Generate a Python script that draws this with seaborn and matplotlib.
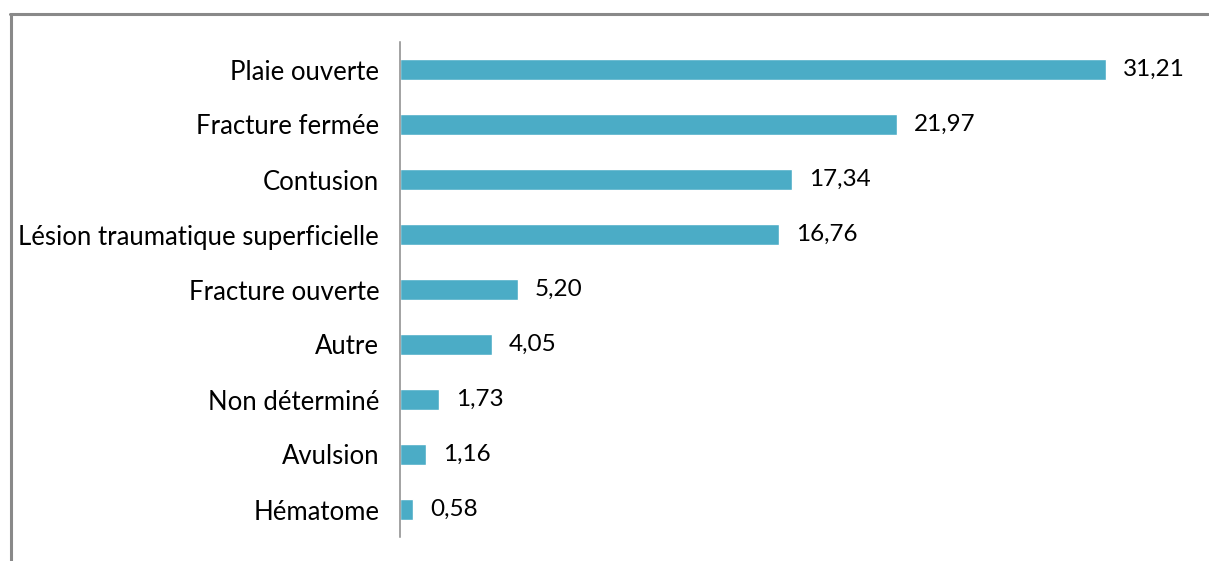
import matplotlib
matplotlib.use("Agg")
import matplotlib.pyplot as plt
import seaborn as sns
import pandas as pd
from matplotlib.lines import Line2D

categories = ["Plaie ouverte", "Fracture fermée", "Contusion",
              "Lésion traumatique superficielle", "Fracture ouverte",
              "Autre", "Non déterminé", "Avulsion", "Hématome"]
values = [31.21, 21.97, 17.34, 16.76, 5.20, 4.05, 1.73, 1.16, 0.58]

df = pd.DataFrame({"Category": categories, "Value": values})

sns.set_style("white")
plt.rcParams["font.family"] = ["Lato", "DejaVu Sans"]

fig = plt.figure(figsize=(12.09, 5.61), dpi=100)
ax = fig.add_axes([400 / 1209, 24 / 561, 780 / 1209, 495 / 561])

sns.barplot(data=df, x="Value", y="Category", orient="h", color="#4BACC6",
            saturation=1, width=0.38, ax=ax)

ax.set_xlim(0, 780 / 22.62)
ax.set_ylim(8.5, -0.5)
ax.set_xlabel("")
ax.set_ylabel("")
ax.set_xticks([])
for side in ["top", "right", "bottom"]:
    ax.spines[side].set_visible(False)
ax.spines["left"].set_color("#898989")
ax.spines["left"].set_linewidth(1.1)
ax.tick_params(axis="y", length=0, pad=15, labelsize=18.5, labelcolor="black")

labels = [f"{v:.2f}".replace(".", ",") for v in values]
ax.bar_label(ax.containers[0], labels=labels, padding=12, fontsize=17.5, color="black")

# outer frame (top and left edges only)
fig.add_artist(Line2D([10 / 1209, 1208 / 1209], [1 - 14 / 561, 1 - 14 / 561],
                      color="#898989", lw=2.2, transform=fig.transFigure))
fig.add_artist(Line2D([11 / 1209, 11 / 1209], [0, 1 - 14 / 561],
                      color="#898989", lw=2.2, transform=fig.transFigure))

fig.savefig("out.png", dpi=100)
